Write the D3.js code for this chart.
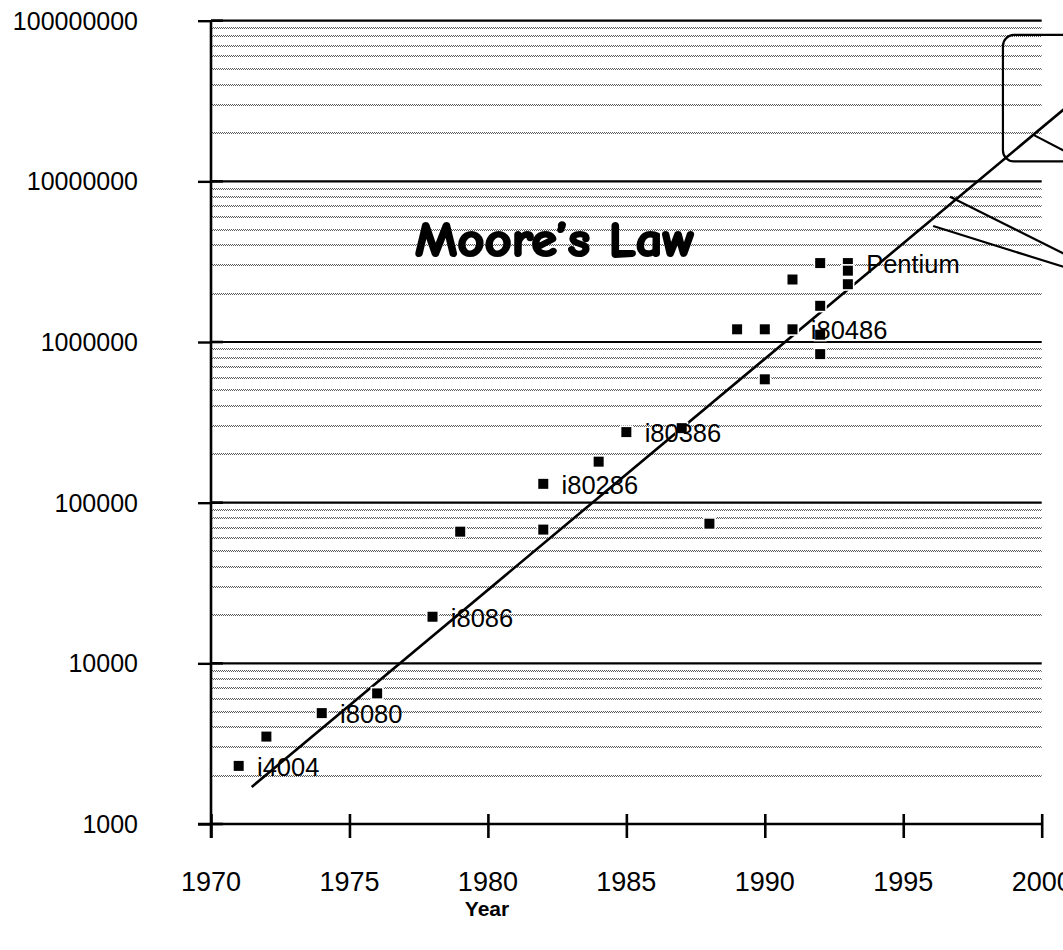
<!DOCTYPE html>
<html>
<head>
<meta charset="utf-8">
<script src="https://cdn.jsdelivr.net/npm/d3@7"></script>
<style>
  html, body { margin: 0; padding: 0; background: #fff; }
  svg { display: block; }
</style>
</head>
<body>
<svg id="chart" width="1063" height="950"></svg>
<script>
// ---- data ----
const years = [1971, 1972, 1974, 1976, 1978, 1979, 1982, 1982, 1984, 1985, 1987, 1988,
               1989, 1990, 1990, 1991, 1991, 1992, 1992, 1992, 1992, 1993, 1993, 1993];
const transistors = [2300, 3500, 4900, 6500, 19500, 66000, 68000, 131000, 180000, 275000, 291000, 74000,
                     1200000, 1200000, 586000, 2450000, 1200000, 3100000, 1680000, 1110000, 841000, 3100000, 2780000, 2290000];
const chipLabels = ["i4004", "", "i8080", "", "i8086", "", "", "i80286", "", "i80386", "", "",
                    "", "", "", "", "i80486", "", "", "", "", "Pentium", "", ""];

const trendYears = [1971.47, 2001.0];
const trendValues = [1700, 3.0e7];

const xTickValues = [1970, 1975, 1980, 1985, 1990, 1995, 2000];
const xTickLabels = ["1970", "1975", "1980", "1985", "1990", "1995", "2000"];
const yTickValues = [1e3, 1e4, 1e5, 1e6, 1e7, 1e8];
const yTickLabels = ["1000", "10000", "100000", "1000000", "10000000", "100000000"];

const titleText = "Moore\u2019s Law";
const xAxisTitle = "Year";

// callout decoration (in data space: [year, value])
const calloutBox = [[1998.6, 8.15e7], [2002.0, 1.33e7]];
const calloutLines = [
  [[1999.72, 1.94e7], [2001.0, 1.49e7]],
  [[1996.69, 8.03e6], [2001.0, 3.41e6]],
  [[1996.08, 5.27e6], [2001.0, 2.86e6]]
];

// ---- drawing ----
const svg = d3.select("#chart");
const x = d3.scaleLinear().domain([1970, 2000]).range([211, 1041.7]);
const y = d3.scaleLog().domain([1e3, 1e8]).range([824, 20.7]);
const FONT = "'Liberation Sans', Arial, Helvetica, sans-serif";

const defs = svg.append("defs");
const pat = defs.append("pattern").attr("id", "chk")
  .attr("width", 2).attr("height", 2).attr("patternUnits", "userSpaceOnUse");
pat.append("rect").attr("x", 0).attr("y", 0).attr("width", 1).attr("height", 1).attr("fill", "#5a5a5a");
pat.append("rect").attr("x", 1).attr("y", 1).attr("width", 1).attr("height", 1).attr("fill", "#5a5a5a");

// minor gridlines
const minorVals = [];
yTickValues.slice(0, -1).forEach(d => { for (let m = 2; m <= 9; m++) minorVals.push(m * d); });
svg.append("g").selectAll("rect").data(minorVals).join("rect")
  .attr("x", x(1970) + 1)
  .attr("y", d => Math.round(y(d)) - 1)
  .attr("width", x(2000) - x(1970) - 1)
  .attr("height", 2)
  .attr("fill", "url(#chk)");

// major gridlines
svg.append("g").selectAll("line").data(yTickValues).join("line")
  .attr("x1", x(1970)).attr("x2", x(2000))
  .attr("y1", d => y(d)).attr("y2", d => y(d))
  .attr("stroke", "#000").attr("stroke-width", 2.2);

// y axis
const yAxis = svg.append("g").attr("transform", `translate(${x(1970)},0)`)
  .call(d3.axisLeft(y).tickValues(yTickValues).tickSize(13).tickFormat(""));
yAxis.select(".domain").remove();
yAxis.selectAll(".tick line").attr("stroke", "#000").attr("stroke-width", 2.4);
svg.append("line").attr("x1", x(1970)).attr("x2", x(1970))
  .attr("y1", y(1e8)).attr("y2", y(1e3) + 14)
  .attr("stroke", "#000").attr("stroke-width", 2.6);
svg.append("g").selectAll("line").data(yTickValues).join("line")
  .attr("x1", x(1970)).attr("x2", x(1970) + 12)
  .attr("y1", d => y(d)).attr("y2", d => y(d))
  .attr("stroke", "#000").attr("stroke-width", 2.6);
svg.append("g").selectAll("text").data(yTickValues).join("text")
  .attr("x", 138).attr("y", d => y(d) + 9)
  .attr("text-anchor", "end")
  .attr("font-family", FONT)
  .attr("font-size", 25)
  .attr("fill", "#000")
  .text((d, i) => yTickLabels[i]);

// x axis
const xAxis = svg.append("g").attr("transform", `translate(0,${y(1e3)})`)
  .call(d3.axisBottom(x).tickValues(xTickValues).tickSize(14).tickFormat(""));
xAxis.select(".domain").remove();
xAxis.selectAll(".tick line").attr("stroke", "#000").attr("stroke-width", 2.6);
svg.append("g").attr("transform", `translate(0,${y(1e3)})`)
  .call(d3.axisTop(x).tickValues(xTickValues).tickSize(10).tickFormat(""))
  .call(g => g.select(".domain").remove())
  .selectAll(".tick line").attr("stroke", "#000").attr("stroke-width", 2.6);
svg.append("line").attr("x1", x(1970) - 13).attr("x2", x(2000))
  .attr("y1", y(1e3)).attr("y2", y(1e3))
  .attr("stroke", "#000").attr("stroke-width", 2.6);
svg.append("g").selectAll("text").data(xTickValues).join("text")
  .attr("x", d => x(d)).attr("y", 891)
  .attr("text-anchor", "middle")
  .attr("font-family", FONT)
  .attr("font-size", 27)
  .attr("fill", "#000")
  .text((d, i) => xTickLabels[i]);
svg.append("text")
  .attr("x", 487).attr("y", 916)
  .attr("text-anchor", "middle")
  .attr("font-family", FONT)
  .attr("font-weight", "bold")
  .attr("font-size", 21)
  .text(xAxisTitle);

// trend line
svg.append("line")
  .attr("x1", x(trendYears[0])).attr("y1", y(trendValues[0]))
  .attr("x2", x(trendYears[1])).attr("y2", y(trendValues[1]))
  .attr("stroke", "#000").attr("stroke-width", 2.6);

// callout
svg.append("rect")
  .attr("x", x(calloutBox[0][0])).attr("y", y(calloutBox[0][1]))
  .attr("width", x(calloutBox[1][0]) - x(calloutBox[0][0]))
  .attr("height", y(calloutBox[1][1]) - y(calloutBox[0][1]))
  .attr("rx", 11).attr("ry", 11)
  .attr("fill", "none").attr("stroke", "#000").attr("stroke-width", 2.2);
svg.append("g").selectAll("line").data(calloutLines).join("line")
  .attr("x1", d => x(d[0][0])).attr("y1", d => y(d[0][1]))
  .attr("x2", d => x(d[1][0])).attr("y2", d => y(d[1][1]))
  .attr("stroke", "#000").attr("stroke-width", 2.2);

// markers
const pts = years.map((yr, i) => ({ yr, v: transistors[i], label: chipLabels[i] }));
svg.append("g").selectAll("rect").data(pts).join("rect")
  .attr("x", d => x(d.yr) - 5.8).attr("y", d => y(d.v) - 5.8)
  .attr("width", 11.6).attr("height", 11.6)
  .attr("fill", "#000").attr("stroke", "#fff").attr("stroke-width", 1.6);

// labels
svg.append("g").selectAll("text").data(pts.filter(d => d.label)).join("text")
  .attr("x", d => x(d.yr) + 18.3).attr("y", d => y(d.v) + 9.8)
  .attr("font-family", FONT)
  .attr("font-size", 25.5)
  .attr("fill", "#000")
  .text(d => d.label);

// title
svg.append("text")
  .attr("x", 415).attr("y", 256)
  .attr("font-family", "'Comic Sans MS', 'Comic Neue', Lato, sans-serif")
  .attr("font-weight", 900)
  .attr("font-size", 48)
  .attr("textLength", 280)
  .attr("lengthAdjust", "spacingAndGlyphs")
  .attr("fill", "#000")
  .attr("stroke", "#000")
  .attr("stroke-width", 2.2)
  .attr("stroke-linejoin", "round")
  .text(titleText);
</script>
</body>
</html>
